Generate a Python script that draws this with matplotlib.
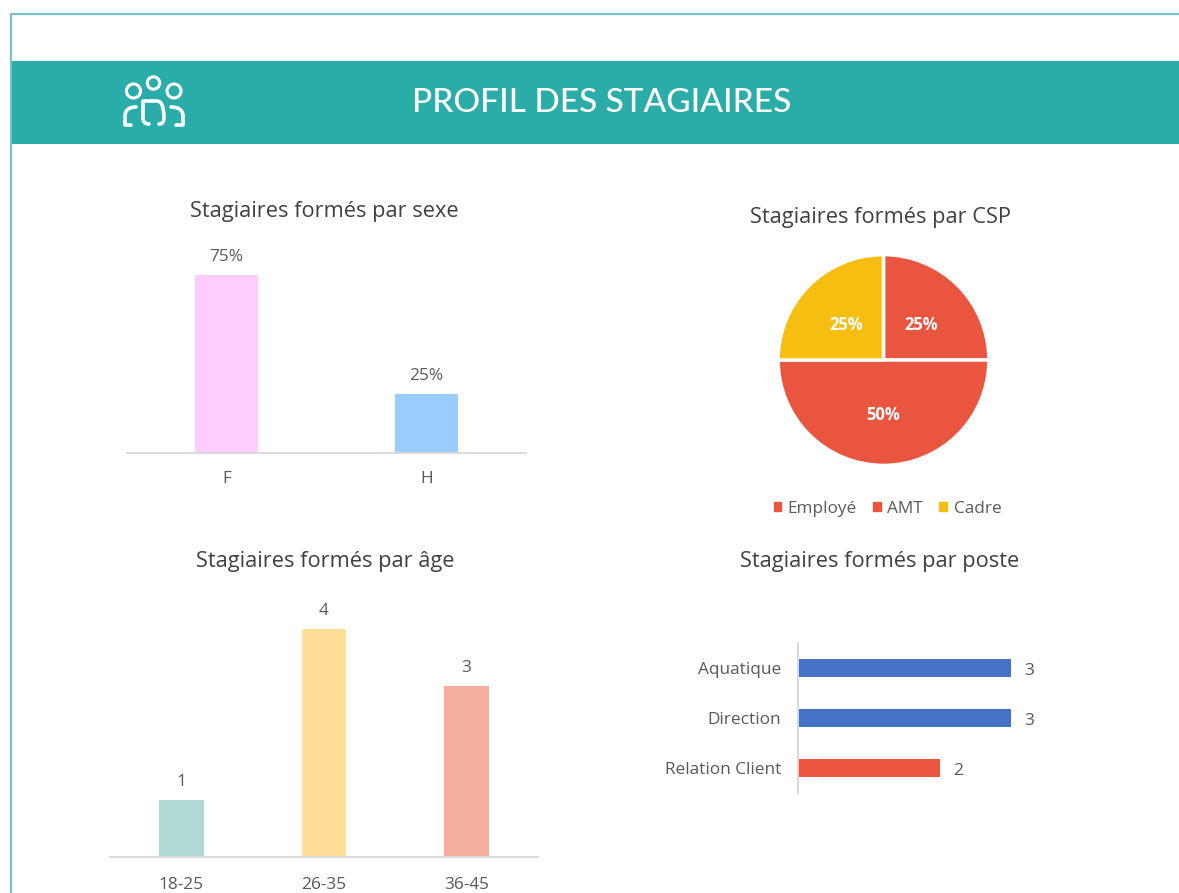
import matplotlib
matplotlib.use("Agg")
import matplotlib.pyplot as plt
from matplotlib.patches import Rectangle, Circle, Patch
from matplotlib.path import Path
from matplotlib.patches import PathPatch

plt.rcParams["font.family"] = ["Open Sans", "DejaVu Sans"]

W, H = 1179, 893
TEAL = "#2AADA8"
GREY = "#595959"
RED = "#E9553F"
BLUE = "#4472C4"
YELLOW = "#F7BE12"
AXIS = "#D9D9D9"
LABEL_SIZE = 12.4

sexe_labels = ["F", "H"]
sexe_values = [75, 25]
sexe_colors = ["#FFCCFF", "#99CCFF"]

csp_labels = ["Employé", "AMT", "Cadre"]
csp_values = [25, 50, 25]
csp_colors = [RED, RED, YELLOW]

age_labels = ["18-25", "26-35", "36-45"]
age_values = [1, 4, 3]
age_colors = ["#B0D9D5", "#FFDE99", "#F5AE9B"]

poste_labels = ["Aquatique", "Direction", "Relation Client"]
poste_values = [3, 3, 2]
poste_colors = [BLUE, BLUE, RED]


def px_axes(fig, left, top, right, bottom):
    # axes placed with pixel coordinates from the top-left of the image
    ax = fig.add_axes([left / W, 1 - bottom / H, (right - left) / W, (bottom - top) / H])
    ax.patch.set_alpha(0)
    return ax


def draw_icon(ax):
    # people icon of the banner
    for cx, cy, r in [(153.5, 83, 6.2), (133.5, 91, 7), (174, 91, 7)]:
        ax.add_patch(Circle((cx, cy), r, fill=False, ec="white", lw=2.2))
    C3 = Path.CURVE3
    L = Path.LINETO
    M = Path.MOVETO
    strokes = [
        # middle person
        ([(149, 124), (143, 124), (143, 118), (143, 101), (150, 101), (157, 101), (164, 101), (164, 118), (164, 124), (159, 124)],
         [M, C3, C3, L, C3, L, C3, C3, C3, C3]),
        # left person
        ([(136, 107), (125, 107), (125, 116), (125, 125), (131, 125)],
         [M, C3, C3, L, L]),
        # right person
        ([(171, 107), (183, 107), (183, 116), (183, 125), (176, 125)],
         [M, C3, C3, L, L]),
    ]
    for pts, codes in strokes:
        ax.add_patch(PathPatch(Path(pts, codes), fill=False, ec="white", lw=2.6, capstyle="round", joinstyle="round"))


def column_chart(fig, box, labels, values, colors, ymax, fmt, tick_pad=13):
    ax = px_axes(fig, *box)
    x = range(len(values))
    bars = ax.bar(x, values, width=0.315, color=colors)
    ax.bar_label(bars, labels=[fmt.format(v) for v in values], padding=7, fontsize=LABEL_SIZE, color=GREY)
    ax.set_xlim(-0.5, len(values) - 0.5)
    ax.set_ylim(0, ymax)
    ax.set_xticks(list(x))
    ax.set_xticklabels(labels, fontsize=LABEL_SIZE, color=GREY)
    ax.tick_params(axis="x", length=0, pad=tick_pad)
    ax.set_yticks([])
    for s in ["top", "left", "right"]:
        ax.spines[s].set_visible(False)
    ax.spines["bottom"].set_color(AXIS)
    ax.spines["bottom"].set_linewidth(1.4)
    return ax


def main():
    fig = plt.figure(figsize=(W / 100, H / 100), dpi=100, facecolor="white")

    # page frame and banner
    bg = fig.add_axes([0, 0, 1, 1])
    bg.set_xlim(0, W)
    bg.set_ylim(H, 0)
    bg.axis("off")
    bg.plot([11, 11, W], [H, 14, 14], color="#7CC3C8", lw=1.6)
    bg.add_patch(Rectangle((11, 61), W - 11, 83, color=TEAL, lw=0))
    draw_icon(bg)
    bg.text(602, 102.5, "PROFIL DES STAGIAIRES", color="white", fontsize=24, family="Lato",
            fontweight="medium", ha="center", va="center")

    # section titles
    title_kw = dict(fontsize=15.7, color="#404040", ha="center", va="center")
    bg.text(324.5, 212, "Stagiaires formés par sexe", **title_kw)
    bg.text(880.5, 217, "Stagiaires formés par CSP", **title_kw)
    bg.text(325, 562, "Stagiaires formés par âge", **title_kw)
    bg.text(879.5, 561, "Stagiaires formés par poste", **title_kw)

    # sexe
    column_chart(fig, (127, 250, 526, 453), sexe_labels, sexe_values, sexe_colors, 85.5, "{}%")

    # age
    column_chart(fig, (110, 600, 538, 857), age_labels, age_values, age_colors, 4.5, "{}", tick_pad=14.5)

    # csp pie
    ax = px_axes(fig, 776, 252.5, 991, 467.5)
    _, _, pct = ax.pie(csp_values, colors=csp_colors, startangle=90, counterclock=False, radius=1,
                       wedgeprops={"edgecolor": "white", "linewidth": 2.5},
                       autopct="%d%%", pctdistance=0.5,
                       textprops={"color": "white", "fontsize": 12, "fontweight": "bold"})
    for t in pct:
        t.set_y(t.get_position()[1] - 0.02)
    ax.set_xlim(-1.02, 1.02)
    ax.set_ylim(-1.02, 1.02)
    handles = [Patch(color=c, label=l) for c, l in zip(csp_colors, csp_labels)]
    fig.legend(handles=handles, loc="center", bbox_to_anchor=(887.5 / W, 1 - 509 / H), ncol=3, frameon=False,
               fontsize=LABEL_SIZE, labelcolor=GREY, handlelength=0.42, handleheight=0.42,
               handletextpad=0.4, columnspacing=0.95)

    # poste
    ax = px_axes(fig, 798, 643, 1050, 793)
    y = range(len(poste_values))
    bars = ax.barh(list(y), poste_values, height=0.35, color=poste_colors)
    for t in ax.bar_label(bars, padding=9, fontsize=LABEL_SIZE, color=GREY):
        t.xyann = (9.5, -2)
    ax.set_xlim(0, 252 / 71)
    ax.set_ylim(len(poste_values) - 0.5, -0.5)
    ax.set_yticks(list(y))
    ax.set_yticklabels(poste_labels, fontsize=LABEL_SIZE, color=GREY)
    ax.tick_params(axis="y", length=0, pad=12)
    ax.set_xticks([])
    for s in ["top", "bottom", "right"]:
        ax.spines[s].set_visible(False)
    ax.spines["left"].set_color(AXIS)
    ax.spines["left"].set_linewidth(1.4)

    fig.savefig("out.png", dpi=100)
    plt.close(fig)


if __name__ == "__main__":
    main()
